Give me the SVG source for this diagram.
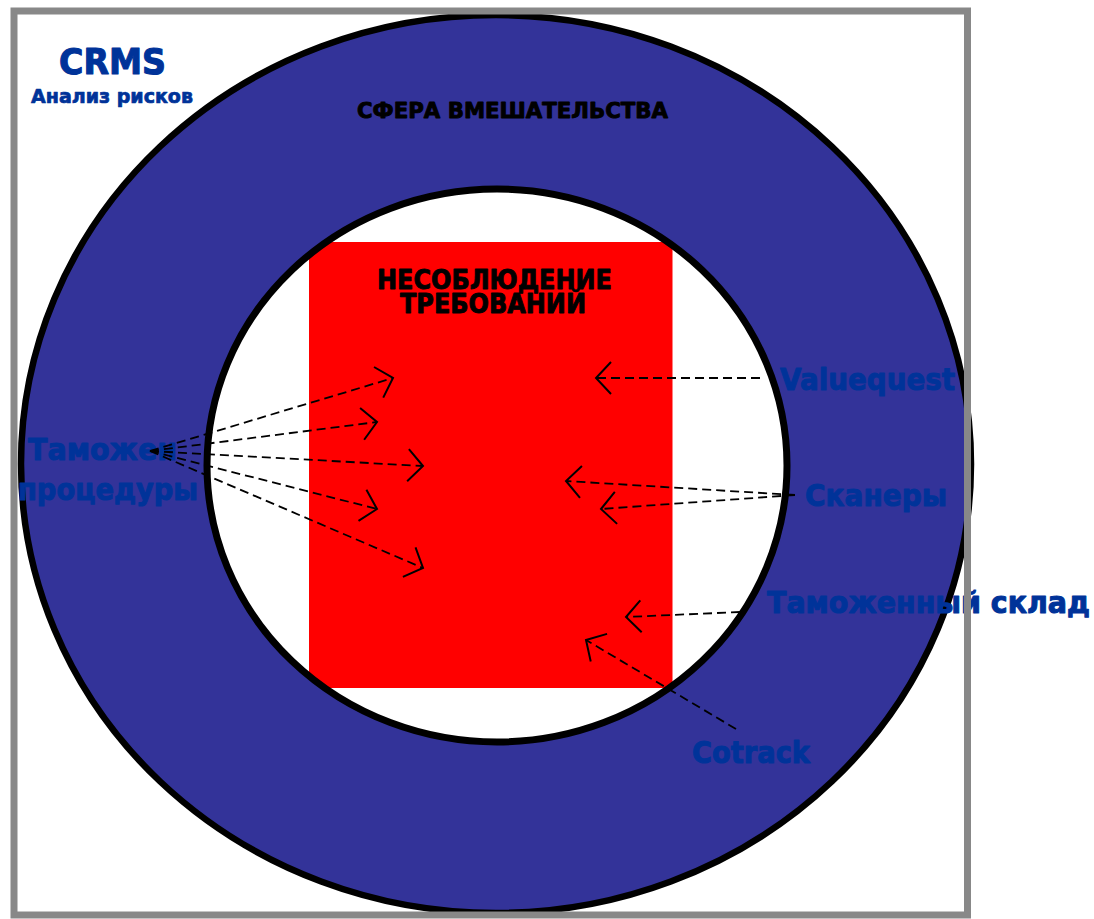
<svg xmlns="http://www.w3.org/2000/svg" width="1094" height="919" viewBox="0 0 1094 919">
<style>
.lbl{font-family:"DejaVu Sans","Liberation Sans",sans-serif;font-weight:bold;fill:#003399;stroke:#003399;stroke-width:1.1;stroke-linejoin:round}
.hdr{font-family:"DejaVu Sans","Liberation Sans",sans-serif;font-weight:bold;fill:#000;stroke:#000;stroke-width:0.9;stroke-linejoin:round}
.con{fill:none;stroke:#000;stroke-width:1.8;stroke-dasharray:9 5;marker-end:url(#open)}
</style>
<defs>
<marker id="open" markerUnits="userSpaceOnUse" orient="auto" refX="0" refY="0" markerWidth="40" markerHeight="40" viewBox="-20 -20 40 40" overflow="visible">
<path d="M-15,-16 L0,0 L-15,16" fill="none" stroke="#000" stroke-width="2"/>
</marker>
<clipPath id="innerClip"><ellipse cx="497" cy="465.5" rx="290" ry="276.5"/></clipPath>
</defs>
<rect width="1094" height="919" fill="#fff"/>
<g id="sphere">
<ellipse cx="496" cy="464" rx="475" ry="449" fill="#333399" stroke="#000" stroke-width="6.5"/>
<text class="hdr" x="357" y="118" font-size="21" textLength="311" lengthAdjust="spacingAndGlyphs">СФЕРА ВМЕШАТЕЛЬСТВА</text>
</g>
<g id="noncompliance">
<ellipse cx="497" cy="465.5" rx="290" ry="276.5" fill="#fff"/>
<rect x="309" y="242" width="363.5" height="446" fill="#ff0000" clip-path="url(#innerClip)"/>
<ellipse cx="497" cy="465.5" rx="290" ry="276.5" fill="none" stroke="#000" stroke-width="7"/>
<text class="hdr" x="377" y="289" font-size="26" textLength="235" lengthAdjust="spacingAndGlyphs">НЕСОБЛЮДЕНИЕ</text>
<text class="hdr" x="400" y="313" font-size="26" textLength="186" lengthAdjust="spacingAndGlyphs">ТРЕБОВАНИЙ</text>
</g>
<g id="crms">
<text class="lbl" x="59" y="74" font-size="35" textLength="107" lengthAdjust="spacingAndGlyphs">CRMS</text>
<text class="lbl" x="31" y="103" font-size="19" textLength="162" lengthAdjust="spacingAndGlyphs" style="stroke-width:0.7">Анализ рисков</text>
</g>
<g id="procedures">
<text class="lbl" x="28" y="460" font-size="30" textLength="149" lengthAdjust="spacingAndGlyphs">Таможен</text>
<text class="lbl" x="18" y="500" font-size="30" textLength="180" lengthAdjust="spacingAndGlyphs">процедуры</text>
</g>
<g id="valuequest">
<text class="lbl" x="780" y="390" font-size="31" textLength="175" lengthAdjust="spacingAndGlyphs">Valuequest</text>
</g>
<g id="scanners">
<text class="lbl" x="805" y="506" font-size="31" textLength="142" lengthAdjust="spacingAndGlyphs">Сканеры</text>
</g>
<g id="warehouse">
<text class="lbl" x="767" y="613" font-size="31" textLength="323" lengthAdjust="spacingAndGlyphs">Таможенный склад</text>
</g>
<g id="cotrack">
<text class="lbl" x="692" y="763" font-size="31" textLength="118" lengthAdjust="spacingAndGlyphs">Cotrack</text>
</g>
<g id="connectors">
<line class="con" x1="150" y1="451" x2="393" y2="378"/>
<line class="con" x1="150" y1="451" x2="377" y2="422"/>
<line class="con" x1="150" y1="451" x2="423" y2="466"/>
<line class="con" x1="150" y1="451" x2="377" y2="509"/>
<line class="con" x1="150" y1="451" x2="423" y2="568"/>
<line class="con" x1="760" y1="378" x2="596" y2="378"/>
<line class="con" x1="795" y1="495" x2="566" y2="481"/>
<line class="con" x1="795" y1="495" x2="601" y2="509"/>
<line class="con" x1="740" y1="612" x2="626" y2="617"/>
<line class="con" x1="736" y1="729" x2="586" y2="640"/>
</g>
<rect id="frame" x="14" y="11" width="953.5" height="904" fill="none" stroke="#888" stroke-width="7"/>
</svg>
